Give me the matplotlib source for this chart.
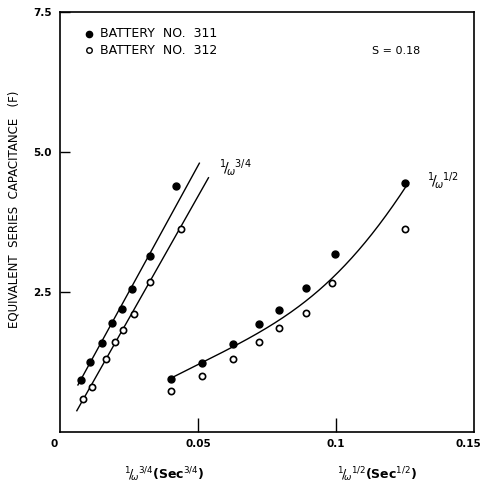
import numpy as np
import matplotlib
matplotlib.use('Agg')
import matplotlib.pyplot as plt

# battery 311 (filled) and 312 (open) vs 1/w^(3/4)
x34_311 = [0.0076, 0.0108, 0.0152, 0.0188, 0.0224, 0.0260, 0.0325, 0.0422]
y34_311 = [0.93, 1.25, 1.59, 1.95, 2.20, 2.55, 3.14, 4.39]
x34_312 = [0.0083, 0.0116, 0.0166, 0.0199, 0.0227, 0.0267, 0.0325, 0.0437]
y34_312 = [0.59, 0.80, 1.30, 1.61, 1.82, 2.11, 2.68, 3.63]

# same batteries vs 1/w^(1/2)
x12_311 = [0.0401, 0.0516, 0.0628, 0.0722, 0.0794, 0.0892, 0.0996, 0.1249]
y12_311 = [0.95, 1.23, 1.57, 1.93, 2.18, 2.57, 3.18, 4.45]
x12_312 = [0.0401, 0.0516, 0.0628, 0.0722, 0.0794, 0.0892, 0.0986, 0.1249]
y12_312 = [0.73, 1.00, 1.30, 1.61, 1.86, 2.13, 2.66, 3.63]

# hand drawn fit lines
line311_x = [0.0065, 0.0505]
line311_y = [0.84, 4.80]
line312_x = [0.0061, 0.0538]
line312_y = [0.38, 4.54]
curve_x = [0.0397, 0.0516, 0.0632, 0.0722, 0.0794, 0.0892, 0.0986, 0.1083, 0.1181, 0.1253]
curve_y = [0.95, 1.23, 1.55, 1.79, 2.00, 2.36, 2.71, 3.25, 3.84, 4.41]

xtick_pos = [0, 0.05, 0.1, 0.15]
xtick_lab = ['0', '0.05', '0.1', '0.15']

fig = plt.figure(figsize=(4.81, 4.86), dpi=100)
ax = fig.add_axes([0.1247, 0.1111, 0.8607, 0.8642])

ax.plot(line311_x, line311_y, color='black', lw=1.0)
ax.plot(line312_x, line312_y, color='black', lw=1.0)
cx = np.array(curve_x)
cy = np.array(curve_y)
t = np.linspace(0, 1, len(cx))
tt = np.linspace(0, 1, 200)
pc = np.polyfit(t, cx, 3)
pyc = np.polyfit(t, cy, 3)
ax.plot(np.polyval(pc, tt), np.polyval(pyc, tt), color='black', lw=1.0)

ax.plot(x34_311, y34_311, 'o', color='black', ms=5)
ax.plot(x12_311, y12_311, 'o', color='black', ms=5)
ax.plot(x34_312, y34_312, 'o', mfc='white', mec='black', mew=1.2, ms=4.5)
ax.plot(x12_312, y12_312, 'o', mfc='white', mec='black', mew=1.2, ms=4.5)

ax.set_xlim(0, 0.15)
ax.set_ylim(0, 7.5)
ax.set_xticks([0.05, 0.1])
ax.set_yticks([2.5, 5.0, 7.5])
ax.set_xticklabels([])
ax.set_yticklabels(['2.5', '5.0', '7.5'], fontsize=7.5, fontweight='bold')
ax.tick_params(axis='x', direction='in', length=10, width=1)
ax.tick_params(axis='y', direction='in', length=7, width=1, pad=6)
for s in ax.spines.values():
    s.set_linewidth(1.2)

for xv, lab in zip(xtick_pos, xtick_lab):
    ha = 'center'
    if lab == '0':
        xv = -0.002
    if lab == '0.15':
        ha = 'right'
        xv = 0.1525
    ax.text(xv, -0.12, lab, ha=ha, va='top', fontsize=7.5, fontweight='bold')

ax.set_ylabel('EQUIVALENT  SERIES  CAPACITANCE   (F)', fontsize=8.5)
ax.yaxis.set_label_coords(-0.095, 0.53)

# legend drawn by hand like the original
ax.plot([0.0105], [7.11], 'o', color='black', ms=4.5)
ax.plot([0.0105], [6.82], 'o', mfc='white', mec='black', mew=1.0, ms=4)
ax.text(0.0145, 7.11, 'BATTERY  NO.  311', fontsize=9, va='center')
ax.text(0.0145, 6.82, 'BATTERY  NO.  312', fontsize=9, va='center')
ax.text(0.113, 6.80, 'S = 0.18', fontsize=8, va='center')

ax.text(0.0575, 4.72, r'$^{1}\!/\!_{\omega}{}^{3/4}$', fontsize=10, ha='left', va='center')
ax.text(0.1328, 4.5, r'$^{1}\!/\!_{\omega}{}^{1/2}$', fontsize=10, ha='left', va='center')

fig.text(164 / 481, 1 - 475 / 486, r'$^{1}\!/\!_{\omega}{}^{3/4}$(Sec$^{3/4}$)', fontsize=9,
         ha='center', va='center', fontweight='bold')
fig.text(377 / 481, 1 - 475 / 486, r'$^{1}\!/\!_{\omega}{}^{1/2}$(Sec$^{1/2}$)', fontsize=9,
         ha='center', va='center', fontweight='bold')

fig.savefig('out.png', dpi=100)
